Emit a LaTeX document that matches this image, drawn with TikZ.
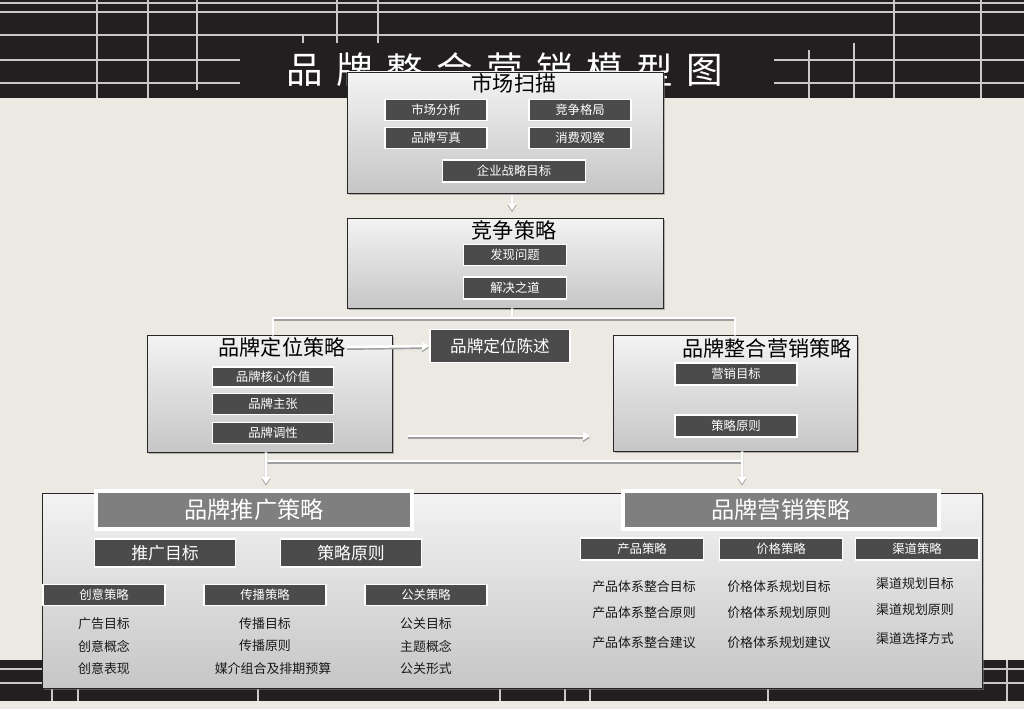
\documentclass[tikz,border=0pt]{standalone}
\usepackage{fontspec}
\setmainfont{Noto Sans CJK SC}
\usetikzlibrary{arrows.meta,shadows}

\newcommand\pxl{0.025cm}
\definecolor{bandgray}{HTML}{231F20}
\definecolor{paper}{HTML}{ECE8E2}
\definecolor{tagdark}{HTML}{4B4B4B}
\definecolor{headgray}{HTML}{7F7F7F}
\definecolor{rulegray}{HTML}{C9C9C9}
\definecolor{paneltop}{HTML}{F3F3F3}
\definecolor{panelbot}{HTML}{C6C6C6}

\tikzset{
  rulegrid/.style={draw=rulegray, line width=1.1pt},
  titlechar/.style={text=white, font=\fontsize{26}{28}\selectfont, inner sep=0pt},
  panel/.style={draw=black!85, line width=0.6pt, top color=paneltop, bottom color=panelbot,
    drop shadow={shadow xshift=1.2pt, shadow yshift=-1.2pt, opacity=0.55}, inner sep=0pt},
  paneltitle/.style={text=black, font=\fontsize{15}{17}\selectfont, inner sep=1pt},
  tag/.style={fill=tagdark, draw=white, line width=1.4pt, text=white, inner sep=0pt,
    minimum width=102*\pxl, minimum height=21*\pxl, font=\fontsize{8.8}{10}\selectfont},
  bigtag/.style={tag, minimum width=141*\pxl, minimum height=28*\pxl, font=\fontsize{12}{14}\selectfont},
  header/.style={fill=headgray, draw=white, line width=2.2pt, text=white, inner sep=0pt,
    minimum width=316*\pxl, minimum height=38*\pxl, font=\fontsize{16.5}{18}\selectfont},
  itemtext/.style={text=black!90, inner sep=0pt, font=\fontsize{9.2}{11}\selectfont},
  link/.style={draw=white, line width=1.8pt,
    preaction={draw=gray!75, line width=1.8pt, transform canvas={yshift=-1.2pt}}},
  flow/.style={link, -{Triangle[length=5pt, width=6pt]}}
}

\begin{document}
\begin{tikzpicture}[x=\pxl, y=-\pxl]
  % backdrop
  \useasboundingbox (0,0) rectangle (1024,709);
  \fill[paper] (0,0) rectangle (1024,709);
  \fill[bandgray] (0,0) rectangle (1024,98);
  \foreach \y in {3,12,35} \draw[rulegrid] (0,\y) -- (1024,\y);
  \foreach \y in {60,83} {
    \draw[rulegrid] (0,\y) -- (240,\y);
    \draw[rulegrid] (774,\y) -- (1024,\y);
  }
  \foreach \x in {97,148,894,981} \draw[rulegrid] (\x,0) -- (\x,98);
  \draw[rulegrid] (197,0) -- (197,90);
  \foreach \x in {337,378} \draw[rulegrid] (\x,0) -- (\x,43);
  \draw[rulegrid] (303,35) -- (303,43);
  \draw[rulegrid] (809,50) -- (809,98);
  \draw[rulegrid] (854,43) -- (854,98);
  \fill[bandgray] (0,660) rectangle (1024,701);
  \foreach \y in {669,683} \draw[rulegrid] (0,\y) -- (1024,\y);
  \foreach \x in {52,78,258,500,565,590,768} \draw[rulegrid] (\x,688) -- (\x,701);
  \draw[rulegrid] (1007,660) -- (1007,701);

  % title
  \foreach \c [count=\i from 0] in {品,牌,整,合,营,销,模,型,图}
    \node[titlechar] (head\i) at (305+50*\i,70) {\c};

  % market scan
  \node[panel, minimum width=316*\pxl, minimum height=121*\pxl] (scan) at (505,132.5) {};
  \node[paneltitle] (scanT) at (514,83) {市场扫描};
  \node[tag] (market) at (436,110) {市场分析};
  \node[tag] (rival) at (580,110) {竞争格局};
  \node[tag] (portrait) at (436,138) {品牌写真};
  \node[tag] (consumer) at (580,138) {消费观察};
  \node[tag, minimum width=143*\pxl, minimum height=22*\pxl] (goal) at (514,171) {企业战略目标};

  % competition
  \node[panel, minimum width=316*\pxl, minimum height=90*\pxl] (compete) at (505,263) {};
  \node[paneltitle] (competeT) at (514,230) {竞争策略};
  \node[tag, minimum width=103*\pxl] (issue) at (515,255) {发现问题};
  \node[tag, minimum width=103*\pxl, minimum height=22*\pxl] (solve) at (515,288) {解决之道};

  % positioning
  \node[panel, minimum width=245*\pxl, minimum height=117*\pxl] (posit) at (269.5,393.5) {};
  \node[paneltitle] (positT) at (282,347) {品牌定位策略};
  \node[tag, minimum width=121*\pxl, minimum height=20*\pxl] (core) at (273,377) {品牌核心价值};
  \node[tag, minimum width=121*\pxl] (claim) at (273,404) {品牌主张};
  \node[tag, minimum width=121*\pxl] (tone) at (273,433) {品牌调性};
  \node[tag, minimum width=140*\pxl, minimum height=33*\pxl, font=\fontsize{11.8}{13}\selectfont] (statement) at (500,346) {品牌定位陈述};

  % integrated marketing
  \node[panel, minimum width=244*\pxl, minimum height=116*\pxl] (imc) at (735,393) {};
  \node[paneltitle] (imcT) at (767,348) {品牌整合营销策略};
  \node[tag, minimum width=122*\pxl, minimum height=22*\pxl] (target) at (736,374) {营销目标};
  \node[tag, minimum width=122*\pxl, minimum height=22*\pxl] (rule) at (736,426) {策略原则};

  % bottom panel
  \node[panel, minimum width=940*\pxl, minimum height=195*\pxl] (plan) at (512,590.5) {};
  \node[header] (promo) at (254,510) {品牌推广策略};
  \node[header] (sales) at (781,510) {品牌营销策略};
  \node[bigtag] (promoGoal) at (165,553) {推广目标};
  \node[bigtag] (promoRule) at (351,553) {策略原则};
  \node[tag, minimum width=122*\pxl] (idea) at (104,595) {创意策略};
  \node[tag, minimum width=122*\pxl] (spread) at (265,595) {传播策略};
  \node[tag, minimum width=122*\pxl] (pr) at (426,595) {公关策略};
  \node[itemtext] (idea1) at (104,624) {广告目标};
  \node[itemtext] (idea2) at (104,646) {创意概念};
  \node[itemtext] (idea3) at (104,669) {创意表现};
  \node[itemtext] (spread1) at (265,624) {传播目标};
  \node[itemtext] (spread2) at (265,646) {传播原则};
  \node[itemtext] (spread3) at (273,669) {媒介组合及排期预算};
  \node[itemtext] (pr1) at (426,624) {公关目标};
  \node[itemtext] (pr2) at (426,646) {主题概念};
  \node[itemtext] (pr3) at (426,669) {公关形式};
  \node[tag, minimum width=123*\pxl, minimum height=22*\pxl] (product) at (642,549) {产品策略};
  \node[tag, minimum width=123*\pxl, minimum height=22*\pxl] (price) at (781,549) {价格策略};
  \node[tag, minimum width=123*\pxl, minimum height=22*\pxl] (channel) at (917,549) {渠道策略};
  \node[itemtext] (product1) at (644,587) {产品体系整合目标};
  \node[itemtext] (product2) at (644,613) {产品体系整合原则};
  \node[itemtext] (product3) at (644,643) {产品体系整合建议};
  \node[itemtext] (price1) at (779,587) {价格体系规划目标};
  \node[itemtext] (price2) at (779,613) {价格体系规划原则};
  \node[itemtext] (price3) at (779,643) {价格体系规划建议};
  \node[itemtext] (channel1) at (915,584) {渠道规划目标};
  \node[itemtext] (channel2) at (915,610) {渠道规划原则};
  \node[itemtext] (channel3) at (915,639) {渠道选择方式};

  % connectors
  \draw[flow, shorten <=2pt, shorten >=5pt] ([xshift=5pt]scan.south) -- ([xshift=5pt]compete.north);
  \coordinate (fork) at (512,318);
  \draw[link] ([xshift=5pt]compete.south) -- (fork);
  \draw[link] (fork) -| ([xshift=2.5pt]posit.north);
  \draw[link] (fork) -| (imc.north);
  \draw[flow] (positT.east) -- (statement.west);
  \coordinate (gapL) at (408,436);
  \coordinate (gapR) at (590,436);
  \draw[flow] (gapL) -- (gapR);
  \coordinate (barL) at (266,461);
  \coordinate (barR) at (742,461);
  \draw[link] (barL) -- (barR);
  \coordinate (dropL) at (266,484);
  \coordinate (dropR) at (742,484);
  \draw[flow] ([xshift=-2.5pt]posit.south) -- (dropL);
  \draw[flow] ([xshift=5pt]imc.south) -- (dropR);
\end{tikzpicture}
\end{document}
